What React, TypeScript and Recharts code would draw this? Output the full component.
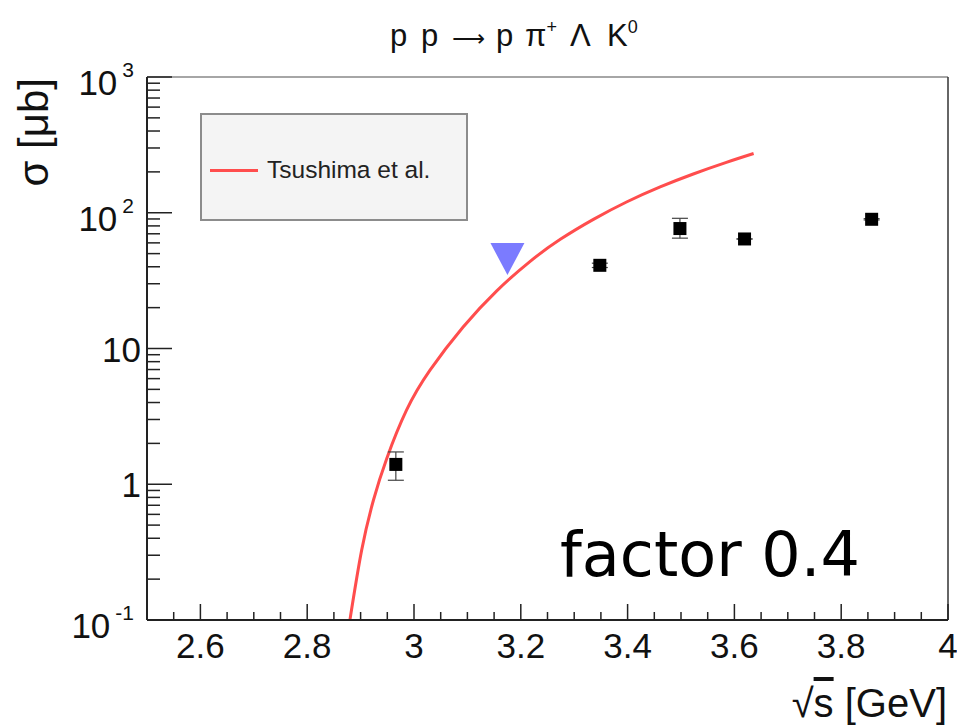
import React from 'react';
import { ComposedChart, Line, Scatter, ErrorBar, XAxis, YAxis, ReferenceLine, Legend } from 'recharts';

// Tsushima et al. calculation
const curveX = [2.88, 2.902, 2.924, 2.949, 2.986, 3.03, 3.092, 3.155, 3.217, 3.274, 3.336, 3.398, 3.461, 3.523, 3.585, 3.636];
const curveY = [0.1, 0.327, 0.762, 1.55, 3.51, 6.92, 14.4, 26.6, 43.7, 63.7, 89.4, 120, 155, 193, 235, 273];

// measured points
const dataX = [2.966, 3.348, 3.498, 3.619, 3.857];
const dataY = [1.4, 41.0, 76.5, 64.1, 89.5];
const errLow = [0.33, 1.5, 11.5, 0, 1];
const errHigh = [0.33, 1.5, 14.5, 0, 1];

// upper limit marker
const limitX = [3.175];
const limitY = [45.6];

const xMajor = [2.6, 2.8, 3, 3.2, 3.4, 3.6, 3.8, 4];
const xLabels = ['2.6', '2.8', '3', '3.2', '3.4', '3.6', '3.8', '4'];
const yDecades = [0.1, 1, 10, 100, 1000];
const yLabelBase = ['10', '1', '10', '10', '10'];
const yLabelExp = ['-1', '', '', '2', '3'];

const curve = curveX.map((x, i) => ({ x, y: curveY[i] }));
const points = dataX.map((x, i) => ({ x, y: dataY[i], err: [errLow[i], errHigh[i]] }));
const limits = limitX.map((x, i) => ({ x, y: limitY[i] }));

const xTicks: number[] = [];
for (let k = 255; k <= 400; k += 5) xTicks.push(k / 100);
const yTicks: number[] = [];
yDecades.slice(0, 4).forEach((d) => {
  for (let m = 1; m <= 9; m++) yTicks.push(m * d);
});
yTicks.push(1000);

const XTick = (props: any) => {
  const { x, y, payload } = props;
  const i = xMajor.indexOf(payload.value);
  const major = i >= 0;
  return (
    <g>
      <line x1={x} x2={x} y1={y} y2={y - (major ? 16 : 8)} stroke="#222" strokeWidth={1.5} />
      {major && (
        <text x={x} y={y + 38} textAnchor="middle" fontSize={35} fill="#111">
          {xLabels[i]}
        </text>
      )}
    </g>
  );
};

const YTick = (props: any) => {
  const { x, y, payload } = props;
  const i = yDecades.indexOf(payload.value);
  const major = i >= 0;
  return (
    <g>
      <line x1={x} x2={x + (major ? 25 : 13)} y1={y} y2={y} stroke="#222" strokeWidth={1.5} />
      {major && yLabelExp[i] === '' && (
        <text x={x - 6} y={y + 13} textAnchor="end" fontSize={35} fill="#111">
          {yLabelBase[i]}
        </text>
      )}
      {major && yLabelExp[i] !== '' && (
        <text x={x - 13} y={y + 18} textAnchor="end" fontSize={35} fill="#111">
          {yLabelBase[i]}
          <tspan fontSize={21} dx={5} dy={-18}>{yLabelExp[i]}</tspan>
        </text>
      )}
    </g>
  );
};

const Square = (props: any) => (
  <rect x={props.cx - 6.5} y={props.cy - 6.5} width={13} height={13} fill="#000" />
);

const Triangle = (props: any) => (
  <polygon
    points={`${props.cx - 17},${props.cy - 16} ${props.cx + 17},${props.cy - 16} ${props.cx},${props.cy + 16}`}
    fill="#7b7bff"
  />
);

const LegendBox = (props: any) => {
  const items = (props.payload || []).filter((p: any) => p.type !== 'none');
  return (
    <div
      style={{
        width: 268,
        height: 108,
        boxSizing: 'border-box',
        background: '#f4f4f4',
        border: '2px solid #8c8c8c',
        position: 'relative',
      }}
    >
      {items.map((it: any, i: number) => (
        <div key={i} style={{ position: 'absolute', left: 8, top: 40 + i * 30, display: 'flex', alignItems: 'center', height: 30 }}>
          <div style={{ width: 48, height: 3, background: it.color }} />
          <span style={{ marginLeft: 9, fontSize: 24.5, color: '#222' }}>{it.value}</span>
        </div>
      ))}
    </div>
  );
};

export default function App() {
  return (
    <div
      style={{
        position: 'absolute',
        left: 0,
        top: 0,
        width: 957,
        height: 728,
        background: '#fff',
        fontFamily: '"Liberation Sans", Arial, sans-serif',
      }}
    >
      <ComposedChart width={957} height={728} margin={{ top: 77, right: 9, left: 0, bottom: 0 }}>
        <XAxis
          dataKey="x"
          type="number"
          domain={[2.5, 4]}
          ticks={xTicks}
          interval={0}
          tick={<XTick />}
          tickLine={false}
          tickSize={0}
          tickMargin={0}
          height={108}
          axisLine={{ stroke: '#222', strokeWidth: 2 }}
          allowDataOverflow
          label={{
            content: (p: any) => {
              const vb = p.viewBox;
              return (
                <text x={vb.x + vb.width - 1} y={vb.y + 97} textAnchor="end" fontSize={40} fill="#111">
                  √<tspan textDecoration="overline">s</tspan> [GeV]
                </text>
              );
            },
          }}
        />
        <YAxis
          dataKey="y"
          type="number"
          scale="log"
          domain={[0.1, 1000]}
          ticks={yTicks}
          interval={0}
          tick={<YTick />}
          tickLine={false}
          tickSize={0}
          tickMargin={0}
          width={147}
          axisLine={{ stroke: '#222', strokeWidth: 2 }}
          allowDataOverflow
          label={{
            content: (p: any) => {
              const vb = p.viewBox;
              return (
                <text
                  transform={`translate(${vb.x + 48}, ${vb.y + 1}) rotate(-90)`}
                  textAnchor="end"
                  fontSize={42}
                  fill="#111"
                >
                  σ [μb]
                </text>
              );
            },
          }}
        />
        <ReferenceLine y={1000} stroke="#888" strokeWidth={1.5} />
        <ReferenceLine x={4} stroke="#333" strokeWidth={1.5} />
        <Legend
          layout="vertical"
          align="center"
          verticalAlign="middle"
          content={<LegendBox />}
          wrapperStyle={{ left: 200, top: 113, width: 268, height: 108 }}
        />
        <Line
          data={curve}
          dataKey="y"
          name="Tsushima et al."
          type="natural"
          stroke="#ff4d4d"
          strokeWidth={3}
          dot={false}
          activeDot={false}
          isAnimationActive={false}
        />
        <Scatter data={points} dataKey="y" shape={<Square />} legendType="none" isAnimationActive={false}>
          <ErrorBar dataKey="err" direction="y" width={8} stroke="#444" strokeWidth={1.2} />
        </Scatter>
        <Scatter data={limits} dataKey="y" shape={<Triangle />} legendType="none" isAnimationActive={false} />
      </ComposedChart>
      <svg width={957} height={728} style={{ position: 'absolute', left: 0, top: 0, pointerEvents: 'none' }}>
        <text y={46} fontSize={31} fill="#111">
          <tspan x={390}>p</tspan>
          <tspan x={421}>p</tspan>
          <tspan x={452} style={{ fontFamily: '"DejaVu Sans", sans-serif' }} fontSize={23}>⟶</tspan>
          <tspan x={496}>p</tspan>
          <tspan x={525}>π</tspan>
          <tspan fontSize={18} dy={-13}>+</tspan>
          <tspan x={570} dy={13}>Λ</tspan>
          <tspan x={607}>K</tspan>
          <tspan fontSize={18} dy={-13}>0</tspan>
        </text>
        <text x={560} y={576} fontSize={62} fill="#000" style={{ fontFamily: '"DejaVu Sans", sans-serif' }}>
          factor 0.4
        </text>
      </svg>
    </div>
  );
}
